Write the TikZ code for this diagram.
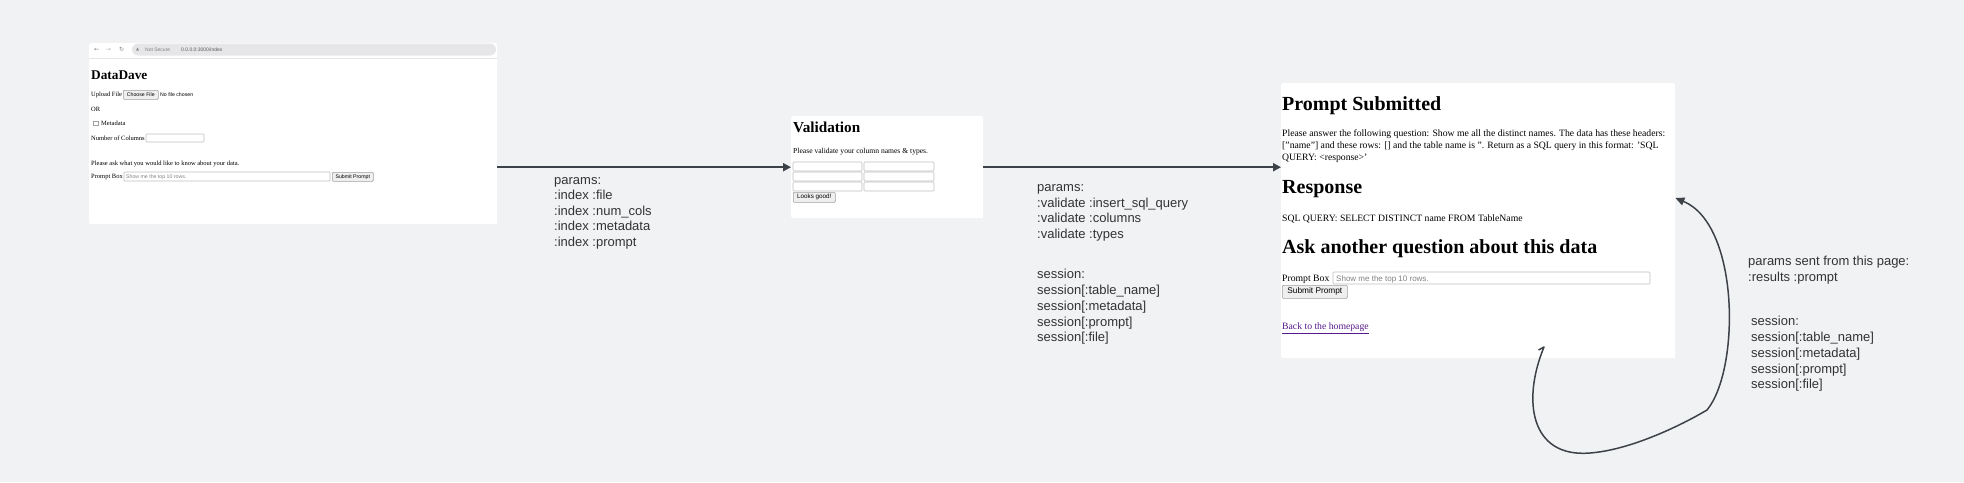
\documentclass[tikz,border=0pt]{standalone}
\usepackage{fontspec}
\setmainfont{Liberation Serif}
\setsansfont{Liberation Sans}
\newfontfamily\lblfont{Liberation Sans}
\newfontfamily\symfont{DejaVu Sans}
\usetikzlibrary{arrows.meta}
\definecolor{bg}{RGB}{241,242,244}
\definecolor{ink}{RGB}{61,65,72}
\definecolor{lbl}{RGB}{51,51,51}
\definecolor{fieldline}{RGB}{190,190,190}
\definecolor{btnline}{RGB}{160,160,160}
\definecolor{btnfill}{RGB}{239,239,239}
\definecolor{pill}{RGB}{230,230,232}
\definecolor{linkc}{RGB}{85,26,139}
\definecolor{phgray}{RGB}{130,130,130}
\tikzset{
  shot/.style={fill=white, rounded corners=2pt, inner sep=0pt, anchor=north west},
  txt/.style={inner sep=0pt, anchor=base west},
  field/.style={draw=fieldline, fill=white, line width=0.6pt, rounded corners=1pt},
  btn/.style={draw=btnline, fill=btnfill, line width=0.6pt, rounded corners=1pt, inner sep=0pt, anchor=north west},
  arr/.style={draw=ink, line width=2pt, -{Triangle[length=8pt,width=8pt]}},
  curv/.style={draw=ink, line width=1.5pt, -{Triangle[length=9pt,width=8pt]}},
  lblnode/.style={inner sep=0pt, anchor=north west, align=left, text=lbl, font=\lblfont\fontsize{13}{15.5}\selectfont},
  lblsess/.style={lblnode, font=\lblfont\fontsize{13}{15.8}\selectfont},
  sA/.style={font=\fontsize{6.5}{8}\selectfont},
  sAs/.style={font=\sffamily\fontsize{5.2}{6}\selectfont},
  sB/.style={font=\fontsize{7.6}{9}\selectfont},
  sC/.style={font=\fontsize{9.7}{12}\selectfont},
  hC/.style={font=\bfseries\fontsize{20}{23}\selectfont},
}
\begin{document}
\begin{tikzpicture}[x=1pt,y=-1pt]
\fill[bg] (0,0) rectangle (1964,482);
\useasboundingbox (0,0) rectangle (1964,482);

% ---------- screen 1: index ----------
\node[shot, minimum width=408pt, minimum height=181pt] (scr1) at (89,43) {};
\fill[pill, rounded corners=6pt] (132,43.5) rectangle (496,55.5);
\draw[gray!20, line width=0.5pt] (89,58) -- (497,58);
\node[txt, font=\symfont\fontsize{6}{7}\selectfont, text=gray] (back) at (94,51.5) {←};
\node[txt, font=\symfont\fontsize{6}{7}\selectfont, text=gray!60] (fwd) at (106,51.5) {→};
\node[txt, font=\symfont\fontsize{6}{7}\selectfont, text=gray] (reload) at (119,51.5) {↻};
\node[txt, font=\symfont\fontsize{4}{5}\selectfont, text=gray] (warn) at (136,50.5) {▲};
\node[txt, font=\sffamily\fontsize{5}{6}\selectfont, text=gray] (notsec) at (145,51) {Not Secure};
\node[txt, font=\sffamily\fontsize{5}{6}\selectfont, text=gray!70!black] (url) at (181,51) {0.0.0.0:3000/index};

\node[txt, font=\bfseries\fontsize{13.3}{15}\selectfont] (h1a) at (91,79) {DataDave};
\node[txt, sA] (upl) at (91,96) {Upload File};
\node[btn, sAs, minimum width=35pt, minimum height=9pt] (choose) at (123,90) {Choose File};
\node[txt, sAs] (nofile) at (160,96) {No file chosen};
\node[txt, sA] (or) at (91,111) {OR};
\node[draw=btnline, line width=0.5pt, fill=white, inner sep=0pt, minimum size=4.5pt, anchor=north west] (chk) at (93,120.5) {};
\node[txt, sA] (meta) at (101,125) {Metadata};
\node[txt, sA] (ncol) at (91,140) {Number of Columns};
\draw[field] (146,134) rectangle (204,142);
\node[txt, sA] (ask) at (91,165) {Please ask what you would like to know about your data.};
\node[txt, sA] (pbox1) at (91,178.5) {Prompt Box};
\draw[field] (124,172) rectangle (330,181);
\node[txt, sAs, text=phgray] (ph1) at (126,178.5) {Show me the top 10 rows.};
\node[btn, sAs, minimum width=41pt, minimum height=9pt] (sub1) at (332,172) {Submit Prompt};

% ---------- screen 2: validation ----------
\node[shot, minimum width=192pt, minimum height=102pt] (scr2) at (791,116) {};
\node[txt, font=\bfseries\fontsize{15.2}{18}\selectfont] (h1b) at (793,132) {Validation};
\node[txt, sB] (valtxt) at (793,153.5) {Please validate your column names \& types.};
\foreach \r in {0,1,2}{
  \draw[field] (793,162+10*\r) rectangle (862,171+10*\r);
  \draw[field] (864,162+10*\r) rectangle (934,171+10*\r);
}
\node[btn, font=\sffamily\fontsize{6.3}{7}\selectfont, minimum width=42pt, minimum height=10pt] (looks) at (793,192) {Looks good!};

% ---------- screen 3: results ----------
\node[shot, minimum width=394pt, minimum height=275pt] (scr3) at (1281,83) {};
\node[txt, hC] (h1c) at (1282,110) {Prompt Submitted};
\node[sC, anchor=north west, inner sep=0pt, align=left] (para) at (1282,127.6) {\strut Please answer the following question: Show me all the distinct names. The data has these headers:\\ {[}"name"{]} and these rows: {[}{]} and the table name is ''. Return as a SQL query in this format: 'SQL\\ QUERY: <response>'};
\node[txt, hC] (h2c) at (1282,193) {Response};
\node[txt, sC] (sql) at (1282,221) {SQL QUERY: SELECT DISTINCT name FROM TableName};
\node[txt, hC] (h3c) at (1282,253.5) {Ask another question about this data};
\node[txt, sC] (pbox3) at (1282,281.5) {Prompt Box};
\draw[field] (1333,272) rectangle (1650,284);
\node[txt, font=\sffamily\fontsize{8}{9}\selectfont, text=phgray] (ph3) at (1336,281) {Show me the top 10 rows.};
\node[btn, font=\sffamily\fontsize{8.3}{9}\selectfont, minimum width=65pt, minimum height=13pt] (sub3) at (1282,285) {Submit Prompt};
\node[txt, sC, text=linkc] (home) at (1282,329.5) {\underline{Back to the homepage}};

% ---------- connectors ----------
\draw[arr] (scr1.east |- scr2.west) -- (scr2.west);
\draw[arr] (scr2.east) -- (scr3.west |- scr2.east);
\coordinate (hook) at (1538.5,350);
\coordinate (loopstart) at (1544,347);
\coordinate (tipy) at (0,198);
\draw[curv, line join=round] (hook) -- (loopstart) .. controls (1522,400) and (1530,458) .. (1590,453)
  .. controls (1630,450) and (1680,426) .. (1707,410)
  .. controls (1740,370) and (1740,225) .. (scr3.east |- tipy);

% ---------- labels ----------
\node[lblnode] (lab1) at (554,173.15) {\strut params:\\ :index :file\\ :index :num\_cols\\ :index :metadata\\ :index :prompt};
\node[lblnode] (lab2p) at (1037,180.65) {\strut params:\\ :validate :insert\_sql\_query\\ :validate :columns\\ :validate :types};
\node[lblsess] (lab2s) at (1037,267.5) {\strut session:\\ session[:table\_name]\\ session[:metadata]\\ session[:prompt]\\ session[:file]};
\node[lblnode] (lab3p) at (1748,254.5) {\strut params sent from this page:\\ :results :prompt};
\node[lblsess] (lab3s) at (1751,314.5) {\strut session:\\ session[:table\_name]\\ session[:metadata]\\ session[:prompt]\\ session[:file]};
\end{tikzpicture}
\end{document}
